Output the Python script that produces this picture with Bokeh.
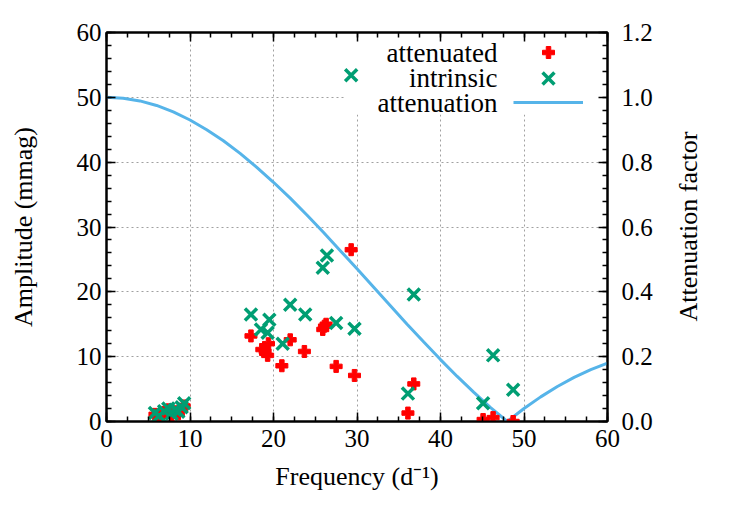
import math
from bokeh.plotting import figure
from bokeh.models import (Range1d, LinearAxis, FixedTicker, PrintfTickFormatter,
                          Legend, LegendItem, Label, BoxAnnotation)
from bokeh.embed import file_html
from bokeh.resources import INLINE

# ---- data ----
freq_att = [5.8, 6.3, 6.9, 7.4, 7.8, 8.2, 8.6, 9.0, 9.3, 17.3, 18.6, 19.0, 19.3,
            19.4, 21.0, 22.0, 23.7, 25.9, 26.1, 26.3, 27.5, 29.3, 29.7, 36.1,
            36.8, 45.1, 46.3, 48.7]
amp_att = [1.1, 0.7, 1.4, 1.8, 0.9, 1.5, 1.2, 1.9, 2.4, 13.2, 11.1, 10.8, 10.2,
           12.0, 8.6, 12.6, 10.8, 14.2, 14.7, 15.0, 8.5, 26.5, 7.1, 1.3,
           5.8, 0.3, 0.6, 0.0]

freq_int = [5.8, 6.3, 6.9, 7.4, 7.8, 8.2, 8.6, 9.0, 9.3, 17.3, 18.5, 19.3, 19.5,
            21.1, 22.0, 23.8, 25.9, 26.4, 27.5, 29.3, 29.7, 36.1, 36.8, 45.1,
            46.3, 48.7]
amp_int = [1.3, 0.9, 1.6, 2.0, 1.2, 1.8, 1.5, 2.2, 2.8, 16.5, 14.2, 13.7, 15.7,
           12.0, 18.0, 16.5, 23.7, 25.6, 15.2, 53.4, 14.3, 4.3, 19.6, 2.8,
           10.2, 4.9]

curve_freq = [0, 2, 4, 6, 8, 10, 12, 14, 16, 18, 20, 22, 24, 26, 28, 30, 32, 34,
              36, 38, 40, 42, 44, 46, 48, 50, 52, 54, 56, 58, 60]
curve_factor = [1.0, 0.997, 0.989, 0.975, 0.955, 0.930, 0.900, 0.866, 0.827,
                0.784, 0.738, 0.689, 0.637, 0.583, 0.527, 0.471, 0.414, 0.357,
                0.300, 0.245, 0.191, 0.139, 0.090, 0.043, 0.0, 0.040, 0.076,
                0.108, 0.136, 0.160, 0.180]

x_major = [0, 10, 20, 30, 40, 50, 60]
x_minor = [i * 2.5 for i in range(25)]
y_major = [0, 10, 20, 30, 40, 50, 60]
y_minor = [i * 2 for i in range(31)]
y2_major = [0.0, 0.2, 0.4, 0.6, 0.8, 1.0, 1.2]
y2_minor = [round(i * 0.04, 2) for i in range(31)]

legend_labels = ["attenuated", "intrinsic", "attenuation"]
y2_title = "Attenuation factor"

FONT = "Liberation Serif"
RED = "#ff0000"
GREEN = "#009e73"
BLUE = "#56b4e9"

p = figure(width=731, height=507, output_backend="svg", toolbar_location=None,
           x_range=Range1d(0, 60), y_range=Range1d(0, 60),
           min_border_left=106, min_border_right=124, min_border_top=32,
           min_border_bottom=86, x_axis_location=None, y_axis_location=None)
p.background_fill_color = "white"
p.border_fill_color = "white"
p.outline_line_color = "black"
p.outline_line_width = 2
p.extra_y_ranges = {"att": Range1d(0, 1.2)}

def style_axis(ax, ticks, minor, fs="25px"):
    ax.ticker = FixedTicker(ticks=ticks, minor_ticks=minor)
    ax.major_tick_in = 9
    ax.major_tick_out = 0
    ax.minor_tick_in = 5
    ax.minor_tick_out = 0
    ax.axis_line_width = 2
    ax.major_tick_line_width = 1.5
    ax.minor_tick_line_width = 1.5
    ax.major_label_text_font = FONT
    ax.major_label_text_font_size = fs
    ax.major_label_text_color = "black"
    ax.axis_label_text_font = FONT
    ax.axis_label_text_font_size = "26px"
    ax.axis_label_text_font_style = "normal"
    ax.axis_label_text_color = "black"

xb = LinearAxis(axis_label="Frequency (d⁻¹)")
style_axis(xb, x_major, x_minor)
xb.major_label_standoff = 8
xb.axis_label_standoff = 12
p.add_layout(xb, "below")

xt = LinearAxis()
style_axis(xt, x_major, x_minor)
xt.major_label_text_font_size = "0px"
xt.major_label_text_alpha = 0
p.add_layout(xt, "above")

yl = LinearAxis(axis_label="Amplitude (mmag)")
style_axis(yl, y_major, y_minor)
yl.major_label_standoff = 5
yl.axis_label_standoff = 36
p.add_layout(yl, "left")

yr = LinearAxis(y_range_name="att")
style_axis(yr, y2_major, y2_minor)
yr.formatter = PrintfTickFormatter(format="%.1f")
yr.major_label_standoff = 14
p.add_layout(yr, "right")

# right-axis title in the right side panel, reading bottom to top
p.add_layout(Label(x=33, y=195, x_units="screen", y_units="screen",
                   text=y2_title, angle=math.pi / 2, text_align="center",
                   text_baseline="middle", text_font=FONT,
                   text_font_size="26px", text_color="black"), "right")

p.xgrid.ticker = FixedTicker(ticks=[10, 20, 30, 40, 50])
p.ygrid.ticker = FixedTicker(ticks=[10, 20, 30, 40, 50])
for g in (p.xgrid, p.ygrid):
    g.grid_line_color = "#a0a0a0"
    g.grid_line_dash = "2 3"
    g.grid_line_width = 1

# opaque key background
p.add_layout(BoxAnnotation(left=239, right=494, bottom=307, top=385,
                           left_units="screen", right_units="screen",
                           bottom_units="screen", top_units="screen",
                           fill_color="white", fill_alpha=1.0,
                           line_alpha=0, level="underlay"))

r_line = p.line(curve_freq, curve_factor, y_range_name="att",
                line_color=BLUE, line_width=3)
r_att = p.scatter(freq_att, amp_att, marker="plus", size=12,
                  fill_color=RED, line_color=RED, line_width=1)
r_int = p.scatter(freq_int, amp_int, marker="x", size=17,
                  line_color=GREEN, line_width=3.5)

key_rows = [(r_att, 30, 369), (r_int, 42, 343), (r_line, 20, 319)]
for rend, gh, yc in key_rows:
    leg = Legend(items=[LegendItem(label=" ", renderers=[rend])],
                 location=(407, yc - gh // 2), glyph_width=70, glyph_height=gh,
                 label_height=1, label_width=1, label_standoff=0, spacing=0,
                 padding=0, margin=0, background_fill_alpha=0,
                 border_line_alpha=0, label_text_font_size="1px")
    p.add_layout(leg, "center")

for i, txt in enumerate(legend_labels):
    p.add_layout(Label(x=391, y=369 - 25 * i, x_units="screen", y_units="screen",
                       text=txt, text_align="right", text_baseline="middle",
                       text_font=FONT, text_font_size="27px",
                       text_color="black"))

open("out.html", "w").write(file_html(p, INLINE))
